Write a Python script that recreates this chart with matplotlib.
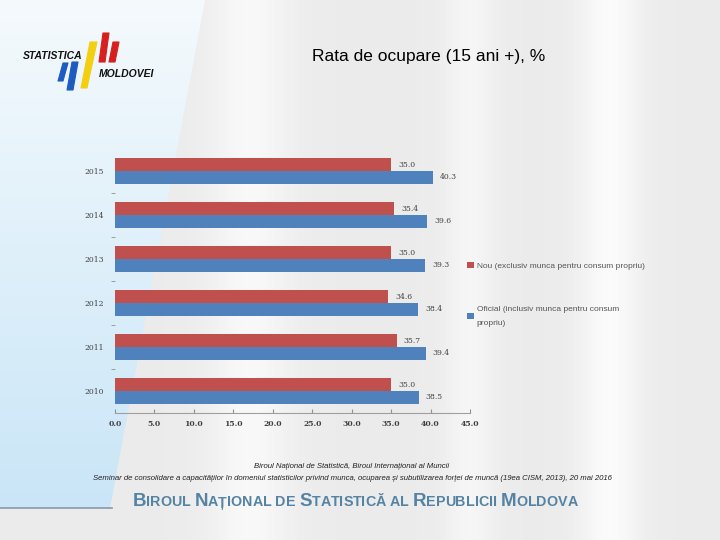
import matplotlib
matplotlib.use('Agg')
import matplotlib.pyplot as plt
import numpy as np
from matplotlib.patches import Polygon
from matplotlib.offsetbox import TextArea, HPacker, AnchoredOffsetbox

plt.rcParams['font.family'] = ['Liberation Sans', 'DejaVu Sans']

# data
years = ['2010', '2011', '2012', '2013', '2014', '2015']
nou = [35.0, 35.7, 34.6, 35.0, 35.4, 35.0]
oficial = [38.5, 39.4, 38.4, 39.3, 39.6, 40.3]
xticks = [0, 5, 10, 15, 20, 25, 30, 35, 40, 45]
lbl_nou = 'Nou (exclusiv munca pentru consum propriu)'
lbl_oficial = 'Oficial (inclusiv munca pentru consum\npropriu)'
title = 'Rata de ocupare (15 ani +), %'
foot1 = 'Biroul Național de Statistică, Biroul Internațional al Muncii'
foot2 = ('Seminar de consolidare a capacităților în domeniul statisticilor privind munca, '
         'ocuparea și subutilizarea forței de muncă (19ea CISM, 2013), 20 mai 2016')
heading = 'Biroul Național de Statistică al Republicii Moldova'

red = '#c0504d'
blue = '#4f81bd'

fig = plt.figure(figsize=(7.2, 5.4), dpi=100)

# slide background (pixel coords, y down)
bg = fig.add_axes([0, 0, 1, 1], zorder=-5)
bg.set_xlim(0, 720)
bg.set_ylim(540, 0)
bg.axis('off')
xx = np.linspace(0, 720, 720)
shade = 0.925 + 0.05 * np.exp(-((xx - 250) / 40) ** 2) + 0.06 * np.exp(-((xx - 610) / 30) ** 2) \
    + 0.04 * np.exp(-((xx - 470) / 25) ** 2)
img = np.tile(np.clip(shade, 0, 1), (540, 1))
bg.imshow(np.dstack([img, img, img]), extent=[0, 720, 540, 0], aspect='auto', zorder=0)

# light blue panel on the left
grad = np.linspace(0, 1, 256)[:, None]
panel = np.zeros((256, 2, 3))
panel[..., 0] = 0.96 - 0.17 * grad
panel[..., 1] = 0.98 - 0.08 * grad
panel[..., 2] = 0.99 - 0.02 * grad
pim = bg.imshow(panel, extent=[0, 210, 508, 0], aspect='auto', zorder=1)
poly = Polygon([(0, 0), (205, 0), (110, 508), (0, 508)], closed=True,
               facecolor='none', edgecolor='none', transform=bg.transData)
bg.add_patch(poly)
pim.set_clip_path(poly)
bg.plot([0, 112], [508, 508], color='#8a9aa8', lw=1.2, zorder=2)

# logo
bars = [
    ([(58, 81), (63, 81), (68, 63), (63, 63)], '#1f5cbf'),
    ([(67, 90), (73, 90), (78, 62), (72, 62)], '#1f5cbf'),
    ([(81, 88), (87, 88), (97, 42), (90, 42)], '#f3cf12'),
    ([(99, 62), (105, 62), (109, 33), (103, 33)], '#d6201f'),
    ([(109, 62), (115, 62), (119, 42), (113, 42)], '#d6201f'),
]
for pts, c in bars:
    bg.add_patch(Polygon(pts, closed=True, facecolor=c, edgecolor=c, lw=0.8,
                         joinstyle='round', zorder=3))
bg.text(23, 56, 'STATISTICA', fontsize=7.5, fontweight='bold', style='italic',
        va='center', ha='left', color='#111111', zorder=4)
bg.text(99, 74, 'MOLDOVEI', fontsize=7.5, fontweight='bold', style='italic',
        va='center', ha='left', color='#111111', zorder=4)

# chart
ax = fig.add_axes([115 / 720, 1 - 413 / 540, 355 / 720, 264 / 540])
ax.patch.set_alpha(0)
y = np.arange(len(years))
h = 0.29
b_nou = ax.barh(y + h / 2, nou, height=h, color=red, label=lbl_nou)
b_of = ax.barh(y - h / 2, oficial, height=h, color=blue, label=lbl_oficial)
for bars_, vals in [(b_nou, nou), (b_of, oficial)]:
    for r, v in zip(bars_, vals):
        ax.annotate(f'{v:.1f}', (v, r.get_y() + r.get_height() / 2),
                    xytext=(5, 0), textcoords='offset points', va='center', ha='left',
                    fontsize=5.5, color='#404040', family='DejaVu Serif')

ax.set_xlim(0, 45)
ax.set_ylim(-0.5, len(years) - 0.5)
ax.set_xticks(xticks)
ax.set_xticklabels([f'{t:.1f}' for t in xticks], fontsize=5.5, color='#404040',
                   family='DejaVu Serif', fontweight='bold')
ax.set_yticks(y)
ax.set_yticklabels(years, fontsize=5.5, color='#404040', family='DejaVu Serif')
ax.set_yticks(np.arange(0.5, len(years) - 1, 1), minor=True)
ax.tick_params(axis='y', which='major', length=0, pad=8)
ax.tick_params(axis='y', which='minor', length=3, color='#909090', direction='out')
ax.tick_params(axis='x', length=3, direction='in', color='#909090', pad=5)
for s in ['top', 'right', 'left']:
    ax.spines[s].set_visible(False)
ax.spines['bottom'].set_color('#a0a0a0')

leg = fig.legend(handles=[b_nou, b_of], labels=[lbl_nou, lbl_oficial], loc='upper left',
                 bbox_to_anchor=(460 / 720, 1 - 254 / 540), frameon=False, fontsize=6,
                 labelcolor='#555555', handlelength=0.8, handleheight=0.8,
                 handletextpad=0.3, labelspacing=4.4)
for t in leg.get_texts():
    t.set_linespacing(2.3)

fig.text(429 / 720, 1 - 57 / 540, title, ha='center', va='center', fontsize=12.5, color='black')
fig.text(352 / 720, 1 - 467 / 540, foot1, ha='center', va='center', fontsize=5.6,
         style='italic', color='#222222')
fig.text(352 / 720, 1 - 478 / 540, foot2, ha='center', va='center', fontsize=5.6,
         style='italic', color='#222222')

# small caps heading
hcol = '#5583a3'
parts = []
for i, word in enumerate(heading.split(' ')):
    if i > 0:
        parts.append(TextArea(' ', textprops=dict(fontsize=10.3, fontweight='bold')))
    for ch in word:
        if ch.isupper():
            parts.append(TextArea(ch, textprops=dict(fontsize=13.5, fontweight='bold',
                                                     color=hcol)))
        else:
            parts.append(TextArea(ch.upper(), textprops=dict(fontsize=10.3, fontweight='bold',
                                                             color=hcol)))
pack = HPacker(children=parts, align='baseline', pad=0, sep=0)
anch = AnchoredOffsetbox(loc='center', child=pack, frameon=False,
                         bbox_to_anchor=(355 / 720, 1 - 502 / 540),
                         bbox_transform=fig.transFigure, borderpad=0, pad=0)
fig.add_artist(anch)

fig.savefig('out.png', dpi=100)
